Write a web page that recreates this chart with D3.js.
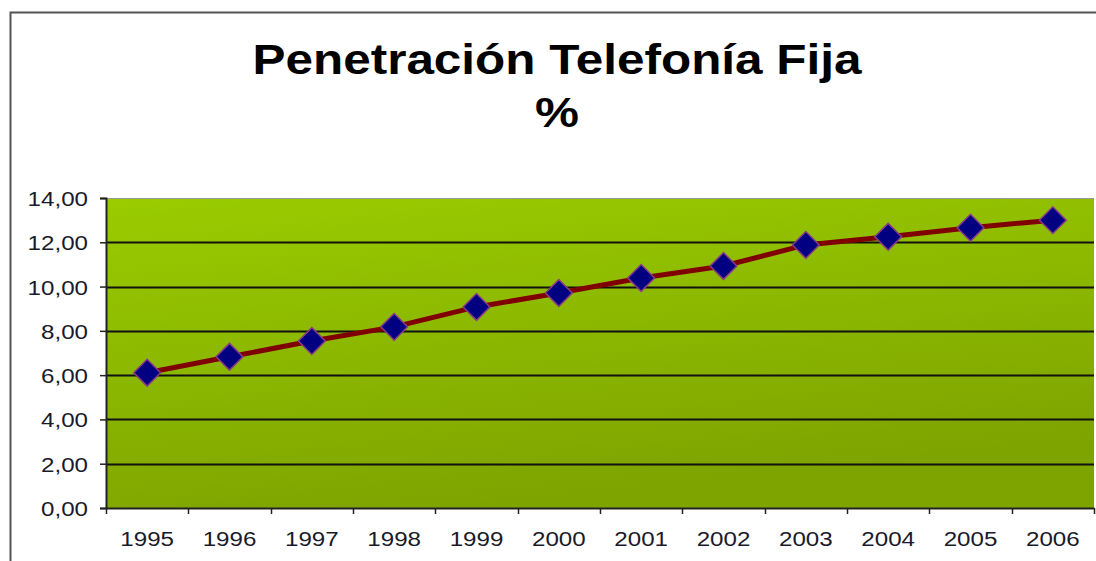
<!DOCTYPE html>
<html>
<head>
<meta charset="utf-8">
<script src="https://cdn.jsdelivr.net/npm/d3@7"></script>
<style>
    html, body { margin: 0; padding: 0; background: #fff; }
    svg { display: block; }
</style>
</head>
<body>
<svg id="chart"></svg>
<script>
// Data
const years = ['1995', '1996', '1997', '1998', '1999', '2000', '2001', '2002', '2003', '2004', '2005', '2006'];
const penetration = [6.11, 6.83, 7.54, 8.18, 9.08, 9.71, 10.39, 10.93, 11.88, 12.25, 12.66, 13.0];
const yTicks = [0, 2, 4, 6, 8, 10, 12, 14];
const titleLines = ['Penetración Telefonía Fija', '%'];

const width = 1096, height = 561;
const margin = { top: 198, right: 2, bottom: 53, left: 106 };
const innerW = width - margin.left - margin.right;
const innerH = height - margin.top - margin.bottom;
const stretch = 1.15; // the source fonts look horizontally wide

const svg = d3.select('#chart')
    .attr('width', width)
    .attr('height', height);

// Outer chart border (only top and left visible)
svg.append('path')
    .attr('d', `M10.5,${height} V12.5 H${width}`)
    .attr('fill', 'none')
    .attr('stroke', '#555')
    .attr('stroke-width', 2);

// Title
svg.append('g')
    .selectAll('text')
    .data(titleLines)
    .join('text')
    .attr('transform', (d, i) => `translate(557,${74 + i * 53}) scale(${stretch},1)`)
    .attr('text-anchor', 'middle')
    .attr('font-family', 'Liberation Sans, Arial, sans-serif')
    .attr('font-weight', 'bold')
    .attr('font-size', 43)
    .attr('fill', '#000')
    .text(d => d);

// Background gradient
const defs = svg.append('defs');
const grad = defs.append('linearGradient')
    .attr('id', 'bg')
    .attr('x1', 0).attr('y1', 0)
    .attr('x2', 0.35).attr('y2', 1);
grad.append('stop').attr('offset', '0%').attr('stop-color', '#9acc00');
grad.append('stop').attr('offset', '100%').attr('stop-color', '#7ea400');

const g = svg.append('g')
    .attr('transform', `translate(${margin.left},${margin.top})`);

// Scales
const x = d3.scaleBand().domain(years).range([0, innerW]);
const y = d3.scaleLinear().domain([0, 14]).range([innerH, 0]);

g.append('rect')
    .attr('width', innerW)
    .attr('height', innerH)
    .attr('fill', 'url(#bg)');

// top edge of plot area
g.append('line')
    .attr('x1', 0).attr('x2', innerW)
    .attr('y1', 0.5).attr('y2', 0.5)
    .attr('stroke', '#999')
    .attr('stroke-width', 1);

// Grid
g.append('g')
    .selectAll('line')
    .data(yTicks.filter(d => d > 0 && d < 14))
    .join('line')
    .attr('x1', 0)
    .attr('x2', innerW)
    .attr('y1', d => Math.round(y(d)) + 0.5)
    .attr('y2', d => Math.round(y(d)) + 0.5)
    .attr('stroke', '#111')
    .attr('stroke-width', 2);

// Axes
const yAxis = d3.axisLeft(y)
    .tickValues(yTicks)
    .tickSize(6)
    .tickFormat(d => d3.format('.2f')(d).replace('.', ','));

const yAxisG = g.append('g').call(yAxis);

const xAxis = d3.axisBottom(x)
    .tickSize(0);

const xAxisG = g.append('g')
    .attr('transform', `translate(0,${innerH})`)
    .call(xAxis);

// x tick marks at band boundaries
g.append('g')
    .selectAll('line')
    .data(d3.range(years.length + 1))
    .join('line')
    .attr('x1', i => Math.round(x.step() * i) + 0.5)
    .attr('x2', i => Math.round(x.step() * i) + 0.5)
    .attr('y1', innerH)
    .attr('y2', innerH + 6)
    .attr('stroke', '#222')
    .attr('stroke-width', 1.5);

[yAxisG, xAxisG].forEach(ax => {
    ax.select('.domain').attr('stroke', '#222').attr('stroke-width', 2);
    ax.selectAll('.tick line').attr('stroke', '#222').attr('stroke-width', 1.5);
    ax.selectAll('.tick text')
        .attr('font-family', 'Liberation Sans, Arial, sans-serif')
        .attr('font-size', 21)
        .attr('fill', '#1a1a2a');
});

yAxisG.selectAll('.tick text')
    .attr('x', -18 / stretch)
    .attr('dy', '0.36em')
    .attr('transform', `scale(${stretch},1)`);

xAxisG.selectAll('.tick text')
    .attr('y', 38)
    .attr('dy', null)
    .attr('transform', `scale(${stretch},1)`);

// Line
const line = d3.line()
    .x((d, i) => x(years[i]) + x.bandwidth() / 2)
    .y(d => y(d));

g.append('path')
    .datum(penetration)
    .attr('d', line)
    .attr('fill', 'none')
    .attr('stroke', '#800000')
    .attr('stroke-width', 5);

// Diamond markers
g.append('g')
    .selectAll('path')
    .data(penetration)
    .join('path')
    .attr('transform', (d, i) => `translate(${x(years[i]) + x.bandwidth() / 2},${y(d)}) rotate(45)`)
    .attr('d', d3.symbol().type(d3.symbolSquare).size(360))
    .attr('fill', '#000080')
    .attr('stroke', '#8a3a8a')
    .attr('stroke-width', 1.5);
</script>
</body>
</html>
